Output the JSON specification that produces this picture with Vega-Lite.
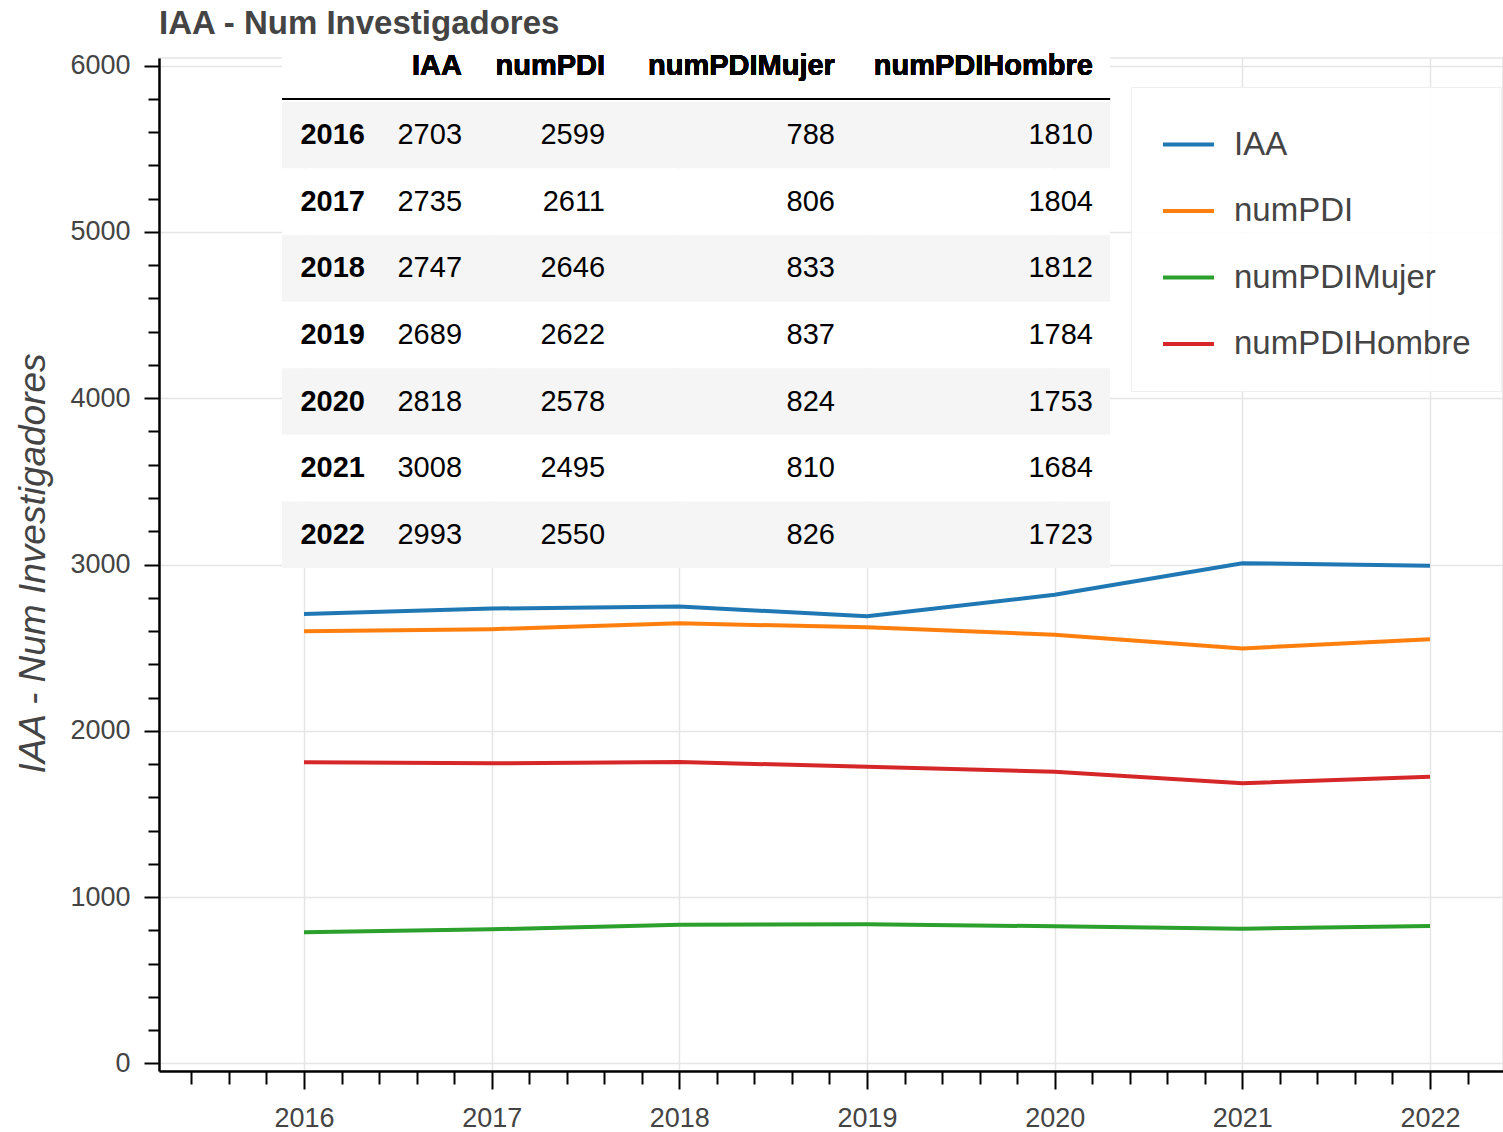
{
  "$schema": "https://vega.github.io/schema/vega-lite/v6.json",
  "autosize": "none",
  "width": 1344,
  "height": 1013,
  "padding": {"left": 159, "top": 58, "right": 0, "bottom": 61},
  "background": "white",
  "config": {
    "font": "Liberation Sans",
    "view": {"stroke": "#e5e5e5", "strokeWidth": 1.5}
  },
  "title": {"text": "IAA - Num Investigadores", "anchor": "start", "frame": "group", "fontSize": 33, "fontWeight": "bold", "color": "#444444", "offset": -6},
  "datasets": {
    "iaa": [
      {"year": 2016, "IAA": 2703, "numPDI": 2599, "numPDIMujer": 788, "numPDIHombre": 1810},
      {"year": 2017, "IAA": 2735, "numPDI": 2611, "numPDIMujer": 806, "numPDIHombre": 1804},
      {"year": 2018, "IAA": 2747, "numPDI": 2646, "numPDIMujer": 833, "numPDIHombre": 1812},
      {"year": 2019, "IAA": 2689, "numPDI": 2622, "numPDIMujer": 837, "numPDIHombre": 1784},
      {"year": 2020, "IAA": 2818, "numPDI": 2578, "numPDIMujer": 824, "numPDIHombre": 1753},
      {"year": 2021, "IAA": 3008, "numPDI": 2495, "numPDIMujer": 810, "numPDIHombre": 1684},
      {"year": 2022, "IAA": 2993, "numPDI": 2550, "numPDIMujer": 826, "numPDIHombre": 1723}
    ]
  },
  "data": {"name": "iaa"},
  "resolve": {"scale": {"y": "independent"}, "axis": {"x": "independent", "y": "independent"}},
  "layer": [
    {
      "mark": {"type": "point", "opacity": 0},
      "encoding": {
        "x": {"field": "year", "type": "quantitative", "scale": {"domain": [2015.2274, 2022.389], "nice": false, "zero": false},
          "axis": {"orient": "bottom", "values": [2015.4,2015.6,2015.8,2016.2,2016.4,2016.6,2016.8,2017.2,2017.4,2017.6,2017.8,2018.2,2018.4,2018.6,2018.8,2019.2,2019.4,2019.6,2019.8,2020.2,2020.4,2020.6,2020.8,2021.2,2021.4,2021.6,2021.8,2022.2],
            "labels": false, "domain": false, "grid": false, "title": null, "tickSize": 13, "tickWidth": 2, "tickColor": "#000000"}},
        "y": {"field": "IAA", "type": "quantitative", "scale": {"domain": [-46.3, 6046.3], "nice": false, "zero": false},
          "axis": {"orient": "left", "values": [200,400,600,800,1200,1400,1600,1800,2200,2400,2600,2800,3200,3400,3600,3800,4200,4400,4600,4800,5200,5400,5600,5800],
            "labels": false, "domain": false, "grid": false, "title": null, "tickSize": 11, "tickWidth": 2, "tickColor": "#000000"}}
      }
    },
    {
      "transform": [{"fold": ["IAA", "numPDI", "numPDIMujer", "numPDIHombre"], "as": ["serie", "valor"]}],
      "mark": {"type": "line", "strokeWidth": 4},
      "encoding": {
        "x": {"field": "year", "type": "quantitative", "scale": {"domain": [2015.2274, 2022.389], "nice": false, "zero": false},
          "axis": {"orient": "bottom", "values": [2016, 2017, 2018, 2019, 2020, 2021, 2022], "format": "d", "title": null,
            "tickSize": 18, "tickWidth": 2, "tickColor": "#000000", "domainColor": "#000000", "domainWidth": 2.5,
            "labelFontSize": 27, "labelColor": "#444444", "labelBaseline": "alphabetic", "labelPadding": 37,
            "grid": true, "gridColor": "#e5e5e5", "gridWidth": 1.5, "labelFlush": false}},
        "y": {"field": "valor", "type": "quantitative", "scale": {"domain": [-46.3, 6046.3], "nice": false, "zero": false},
          "axis": {"orient": "left", "values": [0, 1000, 2000, 3000, 4000, 5000, 6000], "format": "d",
            "tickSize": 15, "tickWidth": 2, "tickColor": "#000000", "domainColor": "#000000", "domainWidth": 2.5,
            "labelFontSize": 27, "labelColor": "#444444", "labelPadding": 14,
            "grid": true, "gridColor": "#e5e5e5", "gridWidth": 1.5,
            "title": "IAA - Num Investigadores", "titleFontSize": 37, "titleFontStyle": "italic", "titleFontWeight": "normal",
            "titleColor": "#444444", "titleX": -115, "titleY": 505, "titleAngle": -90, "titleBaseline": "alphabetic", "titleAlign": "center"}},
        "color": {"field": "serie", "type": "nominal",
          "scale": {"domain": ["IAA", "numPDI", "numPDIMujer", "numPDIHombre"], "range": ["#1f77b4", "#ff7f0e", "#2ca02c", "#d62728"]},
          "legend": {"title": null, "orient": "none", "legendX": 972, "legendY": 29, "symbolType": "stroke", "symbolStrokeWidth": 4,
            "symbolSize": 2601, "labelFontSize": 33, "labelColor": "#444444", "labelOffset": 18, "labelLimit": 500, "padding": 30, "rowPadding": 21.5,
            "fillColor": "rgba(255,255,255,0.93)", "strokeColor": "#eeeeee", "cornerRadius": 0}}
      }
    },
    {
      "mark": {"type": "rect", "fill": "#ffffff"},
      "encoding": {
        "x": {"datum": 2015.883, "type": "quantitative", "scale": {"domain": [2015.2274, 2022.389], "nice": false, "zero": false}, "axis": null},
        "x2": {"datum": 2020.295},
        "y": {"datum": "h", "type": "ordinal", "scale": {"type": "band", "domain": ["h", 2016, 2017, 2018, 2019, 2020, 2021, 2022], "range": [-22.6, 510], "paddingInner": 0, "paddingOuter": 0}, "axis": null}
      }
    },
    {
      "mark": {"type": "rect"},
      "encoding": {
        "x": {"datum": 2015.883, "type": "quantitative", "scale": {"domain": [2015.2274, 2022.389], "nice": false, "zero": false}, "axis": null},
        "x2": {"datum": 2020.295},
        "y": {"field": "year", "type": "ordinal", "scale": {"type": "band", "domain": ["h", 2016, 2017, 2018, 2019, 2020, 2021, 2022], "range": [-22.6, 510], "paddingInner": 0, "paddingOuter": 0}, "axis": null},
        "fill": {"condition": {"test": "datum.year % 2 == 0", "value": "#f5f5f5"}, "value": "#ffffff"}
      }
    },
    {
      "mark": {"type": "rule", "color": "#000000", "strokeWidth": 2, "yOffset": -3},
      "encoding": {
        "x": {"datum": 2015.883, "type": "quantitative", "scale": {"domain": [2015.2274, 2022.389], "nice": false, "zero": false}, "axis": null},
        "x2": {"datum": 2020.295},
        "y": {"datum": "h", "type": "ordinal", "bandPosition": 1, "scale": {"type": "band", "domain": ["h", 2016, 2017, 2018, 2019, 2020, 2021, 2022], "range": [-22.6, 510], "paddingInner": 0, "paddingOuter": 0}, "axis": null}
      }
    },
    {
      "mark": {"type": "text", "align": "right", "baseline": "middle", "fontSize": 29, "fontWeight": "bold", "color": "#000000"},
      "encoding": {
        "x": {"datum": 2016.325, "type": "quantitative", "scale": {"domain": [2015.2274, 2022.389], "nice": false, "zero": false}, "axis": null},
        "y": {"field": "year", "type": "ordinal", "scale": {"type": "band", "domain": ["h", 2016, 2017, 2018, 2019, 2020, 2021, 2022], "range": [-22.6, 510], "paddingInner": 0, "paddingOuter": 0}, "axis": null},
        "text": {"field": "year", "type": "nominal"}
      }
    },
    {
      "mark": {"type": "text", "align": "right", "baseline": "middle", "fontSize": 29, "color": "#000000"},
      "encoding": {
        "x": {"datum": 2016.842, "type": "quantitative", "scale": {"domain": [2015.2274, 2022.389], "nice": false, "zero": false}, "axis": null},
        "y": {"field": "year", "type": "ordinal", "scale": {"type": "band", "domain": ["h", 2016, 2017, 2018, 2019, 2020, 2021, 2022], "range": [-22.6, 510], "paddingInner": 0, "paddingOuter": 0}, "axis": null},
        "text": {"field": "IAA", "type": "nominal"}
      }
    },
    {
      "mark": {"type": "text", "align": "right", "baseline": "middle", "fontSize": 29, "color": "#000000"},
      "encoding": {
        "x": {"datum": 2017.604, "type": "quantitative", "scale": {"domain": [2015.2274, 2022.389], "nice": false, "zero": false}, "axis": null},
        "y": {"field": "year", "type": "ordinal", "scale": {"type": "band", "domain": ["h", 2016, 2017, 2018, 2019, 2020, 2021, 2022], "range": [-22.6, 510], "paddingInner": 0, "paddingOuter": 0}, "axis": null},
        "text": {"field": "numPDI", "type": "nominal"}
      }
    },
    {
      "mark": {"type": "text", "align": "right", "baseline": "middle", "fontSize": 29, "color": "#000000"},
      "encoding": {
        "x": {"datum": 2018.829, "type": "quantitative", "scale": {"domain": [2015.2274, 2022.389], "nice": false, "zero": false}, "axis": null},
        "y": {"field": "year", "type": "ordinal", "scale": {"type": "band", "domain": ["h", 2016, 2017, 2018, 2019, 2020, 2021, 2022], "range": [-22.6, 510], "paddingInner": 0, "paddingOuter": 0}, "axis": null},
        "text": {"field": "numPDIMujer", "type": "nominal"}
      }
    },
    {
      "mark": {"type": "text", "align": "right", "baseline": "middle", "fontSize": 29, "color": "#000000"},
      "encoding": {
        "x": {"datum": 2020.204, "type": "quantitative", "scale": {"domain": [2015.2274, 2022.389], "nice": false, "zero": false}, "axis": null},
        "y": {"field": "year", "type": "ordinal", "scale": {"type": "band", "domain": ["h", 2016, 2017, 2018, 2019, 2020, 2021, 2022], "range": [-22.6, 510], "paddingInner": 0, "paddingOuter": 0}, "axis": null},
        "text": {"field": "numPDIHombre", "type": "nominal"}
      }
    },
    {
      "mark": {"type": "text", "align": "right", "baseline": "middle", "fontSize": 29, "fontWeight": "bold", "color": "#000000", "dy": -3, "text": "IAA"},
      "encoding": {
        "x": {"datum": 2016.842, "type": "quantitative", "scale": {"domain": [2015.2274, 2022.389], "nice": false, "zero": false}, "axis": null},
        "y": {"datum": "h", "type": "ordinal", "scale": {"type": "band", "domain": ["h", 2016, 2017, 2018, 2019, 2020, 2021, 2022], "range": [-22.6, 510], "paddingInner": 0, "paddingOuter": 0}, "axis": null}
      }
    },
    {
      "mark": {"type": "text", "align": "right", "baseline": "middle", "fontSize": 29, "fontWeight": "bold", "color": "#000000", "dy": -3, "text": "numPDI"},
      "encoding": {
        "x": {"datum": 2017.604, "type": "quantitative", "scale": {"domain": [2015.2274, 2022.389], "nice": false, "zero": false}, "axis": null},
        "y": {"datum": "h", "type": "ordinal", "scale": {"type": "band", "domain": ["h", 2016, 2017, 2018, 2019, 2020, 2021, 2022], "range": [-22.6, 510], "paddingInner": 0, "paddingOuter": 0}, "axis": null}
      }
    },
    {
      "mark": {"type": "text", "align": "right", "baseline": "middle", "fontSize": 29, "fontWeight": "bold", "color": "#000000", "dy": -3, "text": "numPDIMujer"},
      "encoding": {
        "x": {"datum": 2018.829, "type": "quantitative", "scale": {"domain": [2015.2274, 2022.389], "nice": false, "zero": false}, "axis": null},
        "y": {"datum": "h", "type": "ordinal", "scale": {"type": "band", "domain": ["h", 2016, 2017, 2018, 2019, 2020, 2021, 2022], "range": [-22.6, 510], "paddingInner": 0, "paddingOuter": 0}, "axis": null}
      }
    },
    {
      "mark": {"type": "text", "align": "right", "baseline": "middle", "fontSize": 29, "fontWeight": "bold", "color": "#000000", "dy": -3, "text": "numPDIHombre"},
      "encoding": {
        "x": {"datum": 2020.204, "type": "quantitative", "scale": {"domain": [2015.2274, 2022.389], "nice": false, "zero": false}, "axis": null},
        "y": {"datum": "h", "type": "ordinal", "scale": {"type": "band", "domain": ["h", 2016, 2017, 2018, 2019, 2020, 2021, 2022], "range": [-22.6, 510], "paddingInner": 0, "paddingOuter": 0}, "axis": null}
      }
    }
  ]
}
